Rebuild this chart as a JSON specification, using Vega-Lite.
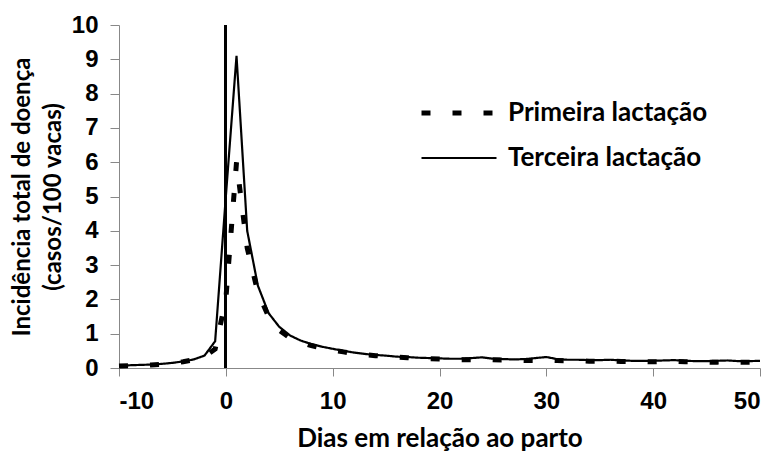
{
  "$schema": "https://vega.github.io/schema/vega-lite/v6.json",
  "width": 641,
  "height": 343,
  "autosize": {"type": "none"},
  "padding": {"left": 119, "top": 25, "right": 16, "bottom": 96},
  "background": "white",
  "config": {"view": {"stroke": null}},
  "datasets": {
    "curves": [
      {"day": -10, "value": 0.06, "series": "Primeira lactação"},
      {"day": -9, "value": 0.07, "series": "Primeira lactação"},
      {"day": -8, "value": 0.08, "series": "Primeira lactação"},
      {"day": -7, "value": 0.09, "series": "Primeira lactação"},
      {"day": -6, "value": 0.11, "series": "Primeira lactação"},
      {"day": -5, "value": 0.14, "series": "Primeira lactação"},
      {"day": -4, "value": 0.18, "series": "Primeira lactação"},
      {"day": -3, "value": 0.24, "series": "Primeira lactação"},
      {"day": -2, "value": 0.33, "series": "Primeira lactação"},
      {"day": -1, "value": 0.55, "series": "Primeira lactação"},
      {"day": 0, "value": 2.0, "series": "Primeira lactação"},
      {"day": 1, "value": 6.0, "series": "Primeira lactação"},
      {"day": 2, "value": 3.5, "series": "Primeira lactação"},
      {"day": 3, "value": 2.2, "series": "Primeira lactação"},
      {"day": 4, "value": 1.5, "series": "Primeira lactação"},
      {"day": 5, "value": 1.1, "series": "Primeira lactação"},
      {"day": 6, "value": 0.88, "series": "Primeira lactação"},
      {"day": 7, "value": 0.75, "series": "Primeira lactação"},
      {"day": 8, "value": 0.65, "series": "Primeira lactação"},
      {"day": 9, "value": 0.58, "series": "Primeira lactação"},
      {"day": 10, "value": 0.52, "series": "Primeira lactação"},
      {"day": 11, "value": 0.47, "series": "Primeira lactação"},
      {"day": 12, "value": 0.42, "series": "Primeira lactação"},
      {"day": 13, "value": 0.39, "series": "Primeira lactação"},
      {"day": 14, "value": 0.36, "series": "Primeira lactação"},
      {"day": 15, "value": 0.34, "series": "Primeira lactação"},
      {"day": 16, "value": 0.32, "series": "Primeira lactação"},
      {"day": 17, "value": 0.3, "series": "Primeira lactação"},
      {"day": 18, "value": 0.28, "series": "Primeira lactação"},
      {"day": 19, "value": 0.27, "series": "Primeira lactação"},
      {"day": 20, "value": 0.26, "series": "Primeira lactação"},
      {"day": 21, "value": 0.25, "series": "Primeira lactação"},
      {"day": 22, "value": 0.24, "series": "Primeira lactação"},
      {"day": 23, "value": 0.24, "series": "Primeira lactação"},
      {"day": 24, "value": 0.25, "series": "Primeira lactação"},
      {"day": 25, "value": 0.24, "series": "Primeira lactação"},
      {"day": 26, "value": 0.23, "series": "Primeira lactação"},
      {"day": 27, "value": 0.23, "series": "Primeira lactação"},
      {"day": 28, "value": 0.22, "series": "Primeira lactação"},
      {"day": 29, "value": 0.22, "series": "Primeira lactação"},
      {"day": 30, "value": 0.23, "series": "Primeira lactação"},
      {"day": 31, "value": 0.22, "series": "Primeira lactação"},
      {"day": 32, "value": 0.21, "series": "Primeira lactação"},
      {"day": 33, "value": 0.21, "series": "Primeira lactação"},
      {"day": 34, "value": 0.2, "series": "Primeira lactação"},
      {"day": 35, "value": 0.2, "series": "Primeira lactação"},
      {"day": 36, "value": 0.2, "series": "Primeira lactação"},
      {"day": 37, "value": 0.19, "series": "Primeira lactação"},
      {"day": 38, "value": 0.19, "series": "Primeira lactação"},
      {"day": 39, "value": 0.19, "series": "Primeira lactação"},
      {"day": 40, "value": 0.18, "series": "Primeira lactação"},
      {"day": 41, "value": 0.19, "series": "Primeira lactação"},
      {"day": 42, "value": 0.19, "series": "Primeira lactação"},
      {"day": 43, "value": 0.18, "series": "Primeira lactação"},
      {"day": 44, "value": 0.18, "series": "Primeira lactação"},
      {"day": 45, "value": 0.17, "series": "Primeira lactação"},
      {"day": 46, "value": 0.17, "series": "Primeira lactação"},
      {"day": 47, "value": 0.18, "series": "Primeira lactação"},
      {"day": 48, "value": 0.17, "series": "Primeira lactação"},
      {"day": 49, "value": 0.17, "series": "Primeira lactação"},
      {"day": 50, "value": 0.17, "series": "Primeira lactação"},
      {"day": -10, "value": 0.07, "series": "Terceira lactação"},
      {"day": -9, "value": 0.08, "series": "Terceira lactação"},
      {"day": -8, "value": 0.09, "series": "Terceira lactação"},
      {"day": -7, "value": 0.1, "series": "Terceira lactação"},
      {"day": -6, "value": 0.12, "series": "Terceira lactação"},
      {"day": -5, "value": 0.15, "series": "Terceira lactação"},
      {"day": -4, "value": 0.19, "series": "Terceira lactação"},
      {"day": -3, "value": 0.25, "series": "Terceira lactação"},
      {"day": -2, "value": 0.36, "series": "Terceira lactação"},
      {"day": -1, "value": 0.78, "series": "Terceira lactação"},
      {"day": 0, "value": 5.0, "series": "Terceira lactação"},
      {"day": 1, "value": 9.1, "series": "Terceira lactação"},
      {"day": 2, "value": 4.0, "series": "Terceira lactação"},
      {"day": 3, "value": 2.4, "series": "Terceira lactação"},
      {"day": 4, "value": 1.6, "series": "Terceira lactação"},
      {"day": 5, "value": 1.2, "series": "Terceira lactação"},
      {"day": 6, "value": 0.95, "series": "Terceira lactação"},
      {"day": 7, "value": 0.8, "series": "Terceira lactação"},
      {"day": 8, "value": 0.7, "series": "Terceira lactação"},
      {"day": 9, "value": 0.62, "series": "Terceira lactação"},
      {"day": 10, "value": 0.56, "series": "Terceira lactação"},
      {"day": 11, "value": 0.5, "series": "Terceira lactação"},
      {"day": 12, "value": 0.45, "series": "Terceira lactação"},
      {"day": 13, "value": 0.41, "series": "Terceira lactação"},
      {"day": 14, "value": 0.38, "series": "Terceira lactação"},
      {"day": 15, "value": 0.36, "series": "Terceira lactação"},
      {"day": 16, "value": 0.33, "series": "Terceira lactação"},
      {"day": 17, "value": 0.32, "series": "Terceira lactação"},
      {"day": 18, "value": 0.3, "series": "Terceira lactação"},
      {"day": 19, "value": 0.29, "series": "Terceira lactação"},
      {"day": 20, "value": 0.28, "series": "Terceira lactação"},
      {"day": 21, "value": 0.27, "series": "Terceira lactação"},
      {"day": 22, "value": 0.27, "series": "Terceira lactação"},
      {"day": 23, "value": 0.29, "series": "Terceira lactação"},
      {"day": 24, "value": 0.31, "series": "Terceira lactação"},
      {"day": 25, "value": 0.27, "series": "Terceira lactação"},
      {"day": 26, "value": 0.26, "series": "Terceira lactação"},
      {"day": 27, "value": 0.25, "series": "Terceira lactação"},
      {"day": 28, "value": 0.26, "series": "Terceira lactação"},
      {"day": 29, "value": 0.29, "series": "Terceira lactação"},
      {"day": 30, "value": 0.32, "series": "Terceira lactação"},
      {"day": 31, "value": 0.26, "series": "Terceira lactação"},
      {"day": 32, "value": 0.24, "series": "Terceira lactação"},
      {"day": 33, "value": 0.24, "series": "Terceira lactação"},
      {"day": 34, "value": 0.23, "series": "Terceira lactação"},
      {"day": 35, "value": 0.23, "series": "Terceira lactação"},
      {"day": 36, "value": 0.24, "series": "Terceira lactação"},
      {"day": 37, "value": 0.22, "series": "Terceira lactação"},
      {"day": 38, "value": 0.21, "series": "Terceira lactação"},
      {"day": 39, "value": 0.21, "series": "Terceira lactação"},
      {"day": 40, "value": 0.21, "series": "Terceira lactação"},
      {"day": 41, "value": 0.22, "series": "Terceira lactação"},
      {"day": 42, "value": 0.23, "series": "Terceira lactação"},
      {"day": 43, "value": 0.21, "series": "Terceira lactação"},
      {"day": 44, "value": 0.2, "series": "Terceira lactação"},
      {"day": 45, "value": 0.2, "series": "Terceira lactação"},
      {"day": 46, "value": 0.21, "series": "Terceira lactação"},
      {"day": 47, "value": 0.22, "series": "Terceira lactação"},
      {"day": 48, "value": 0.2, "series": "Terceira lactação"},
      {"day": 49, "value": 0.2, "series": "Terceira lactação"},
      {"day": 50, "value": 0.21, "series": "Terceira lactação"}
    ]
  },
  "data": {"name": "curves"},
  "encoding": {
    "x": {
      "type": "quantitative",
      "scale": {"domain": [-10, 50], "nice": false, "zero": false},
      "axis": {
        "values": [-10, 0, 10, 20, 30, 40, 50],
        "labelExpr": "toString(datum.value)",
        "labelOverlap": false,
        "grid": false,
        "domainColor": "#888888",
        "tickColor": "#888888",
        "tickSize": 8,
        "labelFont": "Liberation Sans",
        "labelFontWeight": "bold",
        "labelFontSize": 24,
        "labelColor": "black",
        "labelPadding": 13,
        "title": "Dias em relação ao parto",
        "titleFont": "Lato",
        "titleFontSize": 26,
        "titleFontWeight": "bold",
        "titleColor": "black",
        "titlePadding": 12
      }
    },
    "y": {
      "type": "quantitative",
      "scale": {"domain": [0, 10], "nice": false},
      "axis": {
        "values": [0, 1, 2, 3, 4, 5, 6, 7, 8, 9, 10],
        "labelOverlap": false,
        "grid": false,
        "domainColor": "#888888",
        "tickColor": "#888888",
        "tickSize": 9,
        "labelFont": "Liberation Sans",
        "labelFontWeight": "bold",
        "labelFontSize": 24,
        "labelColor": "black",
        "labelPadding": 12,
        "title": ["Incidência total de doença", "(casos/100 vacas)"],
        "titleFont": "Lato",
        "titleFontSize": 24,
        "titleFontWeight": "bold",
        "titleColor": "black",
        "titleLineHeight": 31,
        "titlePadding": 6
      }
    }
  },
  "layer": [
    {
      "mark": {"type": "line", "color": "black", "strokeCap": "butt"},
      "encoding": {
        "x": {"field": "day"},
        "y": {"field": "value"},
        "strokeDash": {
          "field": "series",
          "type": "nominal",
          "scale": {"domain": ["Primeira lactação", "Terceira lactação"], "range": [[9, 22], [1, 0]]},
          "legend": {
            "title": null,
            "orient": "none",
            "legendX": 300,
            "legendY": 72,
            "padding": 0,
            "symbolType": "stroke",
            "symbolSize": 5625,
            "symbolStrokeColor": "black",
            "labelFont": "Lato",
            "labelFontSize": 26,
            "labelFontWeight": "bold",
            "labelColor": "black",
            "labelLimit": 400,
            "labelOffset": 9,
            "clipHeight": 32,
            "rowPadding": 13
          }
        },
        "strokeWidth": {
          "field": "series",
          "type": "nominal",
          "scale": {"domain": ["Primeira lactação", "Terceira lactação"], "range": [5, 2.2]},
          "legend": {
            "title": null,
            "orient": "none",
            "legendX": 300,
            "legendY": 72,
            "padding": 0,
            "symbolType": "stroke",
            "symbolSize": 5625,
            "symbolStrokeColor": "black",
            "labelFont": "Lato",
            "labelFontSize": 26,
            "labelFontWeight": "bold",
            "labelColor": "black",
            "labelLimit": 400,
            "labelOffset": 9,
            "clipHeight": 32,
            "rowPadding": 13
          }
        }
      }
    },
    {
      "mark": {"type": "rule", "color": "black", "strokeWidth": 2},
      "encoding": {
        "x": {"datum": 0},
        "y": {"datum": 0},
        "y2": {"datum": 10}
      }
    }
  ]
}
